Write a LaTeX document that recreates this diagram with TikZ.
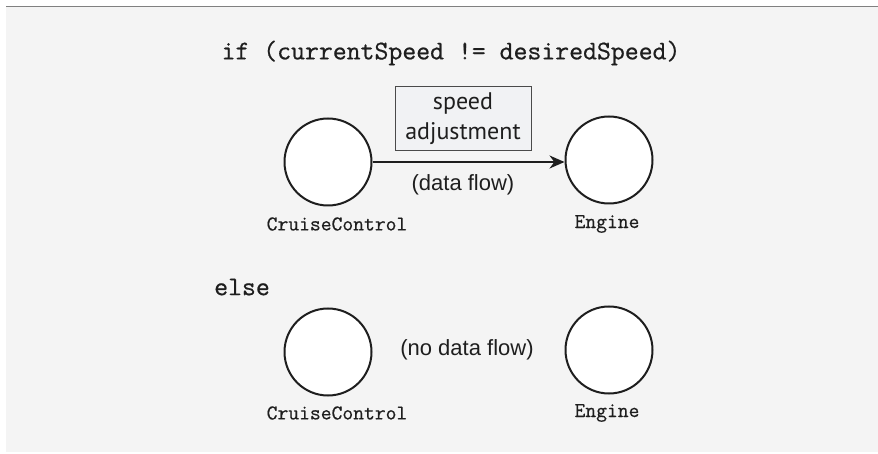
\documentclass[tikz,border=0pt]{standalone}
\usepackage{fontspec}
\setmainfont{Latin Modern Roman}
\setmonofont[RawFeature={embolden=0.6}]{Latin Modern Mono}
\newfontfamily\labelsans{Liberation Sans}
\newfontfamily\boxsans{PT Sans}
\usetikzlibrary{arrows.meta}
\definecolor{panel}{HTML}{F4F4F4}
\definecolor{rule}{HTML}{808080}
\definecolor{ink}{HTML}{1E1E1E}
\definecolor{boxfill}{HTML}{F1F2F4}
\definecolor{boxline}{HTML}{4A4A4A}
\begin{document}
\begin{tikzpicture}[x=1pt,y=-1pt,
  process/.style={circle, draw=ink, fill=white, line width=2pt, minimum size=87pt, inner sep=0pt},
  code/.style={font=\fontsize{27}{32}\selectfont\ttfamily, text=ink, inner sep=0pt},
  procname/.style={font=\fontsize{21}{25}\selectfont\ttfamily, text=ink, inner sep=0pt},
  flowlabel/.style={font=\fontsize{22}{26}\labelsans, text=ink, inner sep=0pt},
  payload/.style={draw=boxline, fill=boxfill, line width=1pt, font=\fontsize{24}{30}\boxsans, text=ink,
    align=center, minimum width=136pt, minimum height=64pt, inner sep=0pt},
  flowarrow/.style={draw=ink, line width=2pt, -{Stealth[length=15pt, width=13pt]}}
]
\useasboundingbox (0,0) rectangle (878,454);
% panel background with top rule
\fill[panel] (6,6) rectangle (878,452);
\draw[rule, line width=1.5pt] (6,6.5) -- (878,6.5);

% condition holds: data flows
\node[code] (cond) at (451,53) {if (currentSpeed != desiredSpeed)};
\node[process] (cc1) at (328,162) {};
\node[process] (en1) at (609,160) {};
\node[procname] (cc1lbl) at (337,224) {CruiseControl};
\node[procname] (en1lbl) at (607,224) {Engine};
\draw[flowarrow] (cc1.east |- 0,162) -- (en1.west |- 0,162);
\node[payload] (msg) at (463,119) {speed\\adjustment};
\node[flowlabel] (flow) at (463,185) {(data flow)};

% otherwise: no flow
\node[code, anchor=west] (els) at (214,287) {else};
\node[process] (cc2) at (328,352) {};
\node[process] (en2) at (609,350) {};
\node[procname] (cc2lbl) at (337,413) {CruiseControl};
\node[procname] (en2lbl) at (607,413) {Engine};
\node[flowlabel] (noflow) at (467,350) {(no data flow)};
\end{tikzpicture}
\end{document}
